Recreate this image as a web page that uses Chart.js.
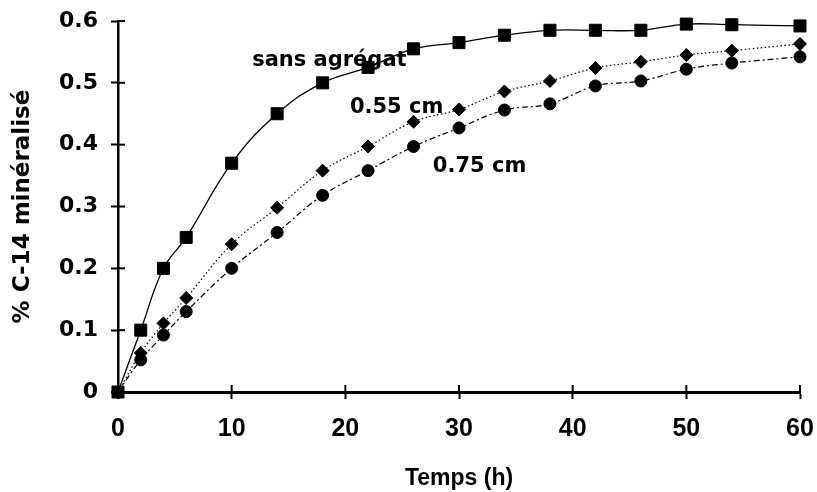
<!DOCTYPE html>
<html>
<head>
<meta charset="utf-8">
<script src="https://cdn.jsdelivr.net/npm/chart.js@4/dist/chart.umd.min.js"></script>
<style>
  html, body { margin: 0; padding: 0; background: #fff; }
  #wrap { width: 817px; height: 492px; }
</style>
</head>
<body>
<div id="wrap"><canvas id="mineralChart"></canvas></div>
<script>
// temps (h)
const temps = [0, 2, 4, 6, 10, 14, 18, 22, 26, 30, 34, 38, 42, 46, 50, 54, 60];
// % C-14 minéralisé
const sansAgregat = [0, 0.1, 0.2, 0.25, 0.37, 0.45, 0.5, 0.525, 0.555, 0.565, 0.577, 0.585, 0.585, 0.585, 0.595, 0.594, 0.592];
const agregat055 = [0, 0.063, 0.111, 0.152, 0.239, 0.298, 0.358, 0.397, 0.437, 0.457, 0.486, 0.503, 0.524, 0.534, 0.545, 0.552, 0.563];
const agregat075 = [0, 0.052, 0.092, 0.13, 0.2, 0.258, 0.318, 0.358, 0.397, 0.427, 0.456, 0.466, 0.495, 0.503, 0.522, 0.532, 0.542];
// graduations
const xTicks = [0, 10, 20, 30, 40, 50, 60];
const yTicks = [0, 0.1, 0.2, 0.3, 0.4, 0.5, 0.6];
// étiquettes des courbes [texte, x, y]
const curveLabels = [
  ['sans agrégat', 11.8, 0.527],
  ['0.55 cm', 20.4, 0.452],
  ['0.75 cm', 27.7, 0.355]
];

const toPoints = (ys) => temps.map((t, i) => ({ x: t, y: ys[i] }));

// petites marques qui traversent les axes (partie intérieure)
const innerTicks = {
  id: 'innerTicks',
  beforeDatasetsDraw(chart) {
    const { ctx, scales: { x, y }, chartArea } = chart;
    ctx.save();
    ctx.strokeStyle = '#000';
    ctx.lineWidth = 2;
    xTicks.forEach(v => {
      const px = x.getPixelForValue(v);
      ctx.beginPath();
      ctx.moveTo(px, chartArea.bottom);
      ctx.lineTo(px, chartArea.bottom - 7);
      ctx.stroke();
    });
    yTicks.forEach(v => {
      const py = y.getPixelForValue(v);
      ctx.beginPath();
      ctx.moveTo(chartArea.left, py);
      ctx.lineTo(chartArea.left + 7, py);
      ctx.stroke();
    });
    ctx.restore();
  }
};

const curveText = {
  id: 'curveText',
  afterDatasetsDraw(chart) {
    const { ctx, scales: { x, y } } = chart;
    ctx.save();
    ctx.fillStyle = '#000';
    ctx.font = 'bold 21px "DejaVu Sans"';
    ctx.textAlign = 'left';
    ctx.textBaseline = 'alphabetic';
    curveLabels.forEach(([txt, vx, vy]) => {
      ctx.fillText(txt, x.getPixelForValue(vx), y.getPixelForValue(vy));
    });
    ctx.restore();
  }
};

const ctxM = document.getElementById('mineralChart');
const mineralChart = new Chart(ctxM, {
  type: 'line',
  data: {
    datasets: [{
      label: 'sans agrégat',
      data: toPoints(sansAgregat),
      borderColor: '#000',
      backgroundColor: '#000',
      borderWidth: 1.3,
      pointStyle: 'rect',
      pointRadius: 8.5,
      pointBorderWidth: 1,
      tension: 0.4,
      clip: false
    }, {
      label: '0.55 cm',
      data: toPoints(agregat055),
      borderColor: '#000',
      backgroundColor: '#000',
      borderWidth: 1.2,
      borderDash: [1.5, 2.5],
      pointStyle: 'rectRot',
      pointRadius: 6.5,
      pointBorderWidth: 1,
      tension: 0.4,
      clip: false
    }, {
      label: '0.75 cm',
      data: toPoints(agregat075),
      borderColor: '#000',
      backgroundColor: '#000',
      borderWidth: 1.2,
      borderDash: [6, 3, 2, 3],
      pointStyle: 'circle',
      pointRadius: 6,
      pointBorderWidth: 1,
      tension: 0.4,
      clip: false
    }]
  },
  options: {
    responsive: true,
    maintainAspectRatio: false,
    animation: false,
    layout: { autoPadding: false, padding: { top: 21, right: 17, left: 0, bottom: 0 } },
    plugins: {
      legend: { display: false },
      tooltip: { enabled: false }
    },
    scales: {
      x: {
        type: 'linear',
        min: 0,
        max: 60,
        afterBuildTicks: (scale) => { scale.ticks = xTicks.map(v => ({ value: v })); },
        afterFit: (scale) => {
          scale.height = 100;
          scale.paddingLeft = 0;
          scale.paddingRight = 0;
        },
        border: { display: true, color: '#000', width: 3 },
        grid: { drawOnChartArea: false, drawTicks: true, tickLength: 7, tickWidth: 2, tickColor: '#000' },
        ticks: {
          color: '#000',
          padding: 15,
          maxRotation: 0,
          font: { family: '"Liberation Sans"', weight: 'bold', size: 25 }
        },
        title: {
          display: true,
          text: 'Temps (h)',
          color: '#000',
          padding: { top: 11, bottom: 0 },
          font: { family: '"Liberation Sans"', weight: 'bold', size: 23 }
        }
      },
      y: {
        type: 'linear',
        min: 0,
        max: 0.6,
        afterBuildTicks: (scale) => { scale.ticks = yTicks.map(v => ({ value: v })); },
        afterFit: (scale) => {
          scale.width = 118;
          scale.paddingTop = 0;
          scale.paddingBottom = 0;
        },
        border: { display: true, color: '#000', width: 2.5 },
        grid: { drawOnChartArea: false, drawTicks: true, tickLength: 7, tickWidth: 2, tickColor: '#000' },
        ticks: {
          color: '#000',
          padding: 13,
          callback: (v) => v === 0 ? '0' : Number(v).toFixed(1),
          font: { family: '"DejaVu Sans"', weight: 'bold', size: 22 }
        },
        title: {
          display: true,
          text: '% C-14 minéralisé',
          color: '#000',
          padding: { top: 9, bottom: 0 },
          font: { family: '"DejaVu Sans"', weight: 'bold', size: 23 }
        }
      }
    }
  },
  plugins: [innerTicks, curveText]
});
</script>
</body>
</html>
